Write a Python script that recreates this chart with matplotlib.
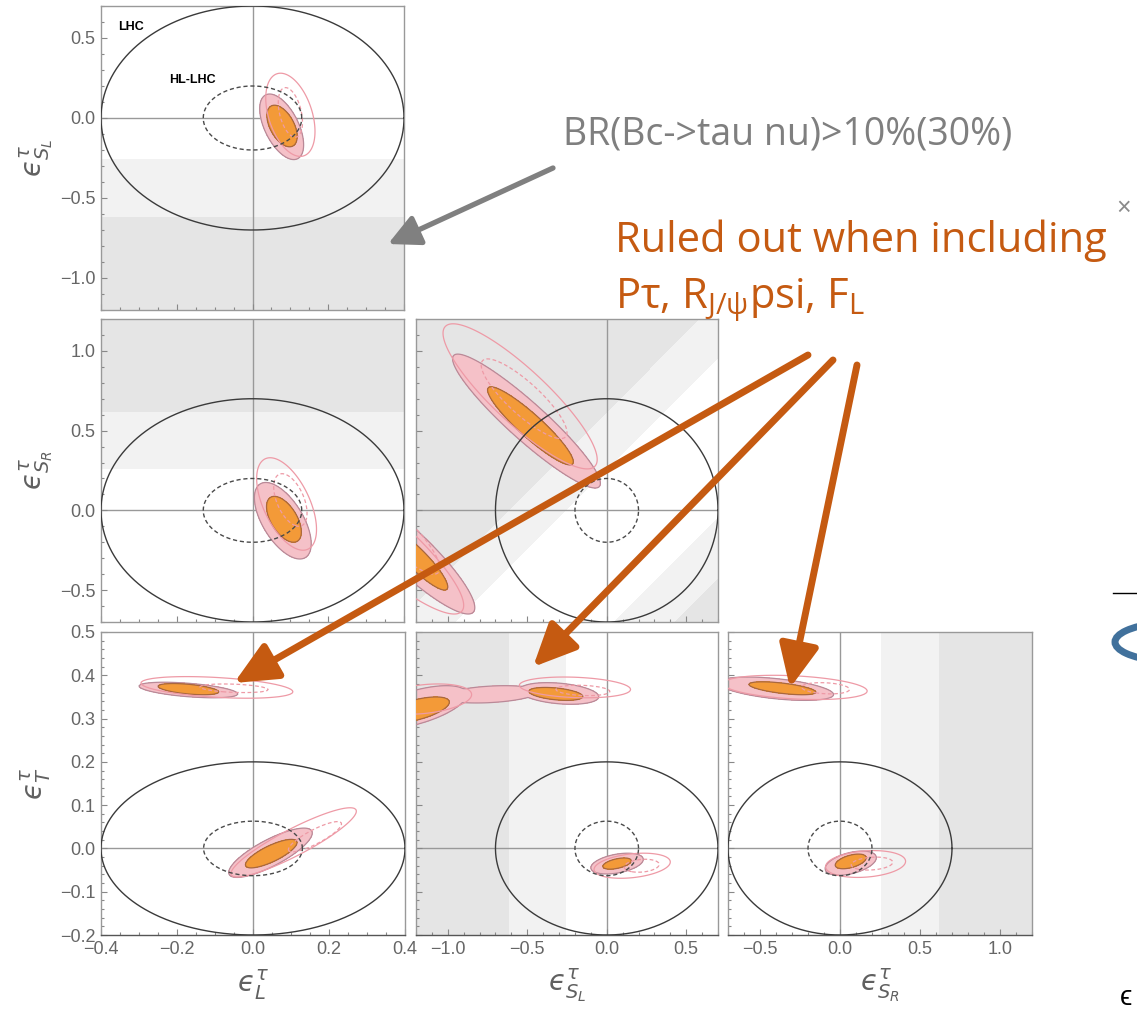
import matplotlib
matplotlib.use("Agg")
import matplotlib.pyplot as plt
import numpy as np
from matplotlib.ticker import MultipleLocator, FuncFormatter
from matplotlib.patches import Arc

plt.rcParams["font.family"] = ["Liberation Sans", "DejaVu Sans"]
plt.rcParams["mathtext.fontset"] = "custom"
plt.rcParams["mathtext.rm"] = "Open Sans"
plt.rcParams["mathtext.it"] = "Open Sans:italic"

W, H = 1137, 1009

# axis ranges / ticks for each coefficient
coef_range = {"L": (-0.4, 0.4), "SL": (-1.2, 0.7), "SR": (-0.7, 1.2), "T": (-0.2, 0.5)}
coef_major = {"L": 0.2, "SL": 0.5, "SR": 0.5, "T": 0.1}
coef_minor = {"L": 0.05, "SL": 0.1, "SR": 0.1, "T": 0.02}
coef_label = {"L": r"$ϵ^{\tau}_{L}$", "SL": r"$ϵ^{\tau}_{S_L}$",
              "SR": r"$ϵ^{\tau}_{S_R}$", "T": r"$ϵ^{\tau}_{T}$"}

# LHC (solid) and HL-LHC (dashed) bounds, semi axes
lhc_bound = {"L": 0.4, "SL": 0.7, "SR": 0.7, "T": 0.2}
hllhc_bound = {"L": 0.13, "SL": 0.2, "SR": 0.2, "T": 0.063}

# BR(Bc->tau nu) > 10% / 30% : allowed window of eps_SR - eps_SL
br10_window = (-0.74, 0.26)
br30_window = (-1.12, 0.62)

# fit regions: (x centre, y centre, x half extent, y half extent, correlation)
fit_1sigma = {
    ("L", "SL"): [(0.078, -0.05, 0.04, 0.13, -0.5)],
    ("L", "SR"): [(0.083, -0.056, 0.046, 0.144, -0.55)],
    ("SL", "SR"): [(-0.48, 0.53, 0.27, 0.245, -0.92), (-1.2, -0.3, 0.2, 0.2, -0.9)],
    ("L", "T"): [(0.048, -0.012, 0.068, 0.033, 0.78), (-0.17, 0.368, 0.08, 0.013, -0.5)],
    ("SL", "T"): [(0.065, -0.035, 0.09, 0.013, 0.5), (-0.32, 0.357, 0.17, 0.015, -0.4),
                  (-1.2, 0.32, 0.21, 0.03, 0.6)],
    ("SR", "T"): [(0.067, -0.03, 0.097, 0.017, 0.5), (-0.36, 0.37, 0.21, 0.015, -0.6)],
}
fit_2sigma = {
    ("L", "SL"): [(0.077, -0.055, 0.058, 0.205, -0.55)],
    ("L", "SR"): [(0.08, -0.065, 0.075, 0.24, -0.6)],
    ("SL", "SR"): [(-0.505, 0.56, 0.465, 0.42, -0.93), (-1.25, -0.25, 0.42, 0.4, -0.9)],
    ("L", "T"): [(0.046, -0.01, 0.11, 0.057, 0.8), (-0.17, 0.366, 0.13, 0.018, -0.5)],
    ("SL", "T"): [(0.065, -0.035, 0.165, 0.024, 0.4), (-0.3, 0.358, 0.25, 0.025, -0.3),
                  (-1.2, 0.326, 0.32, 0.05, 0.6), (-0.73, 0.356, 0.3, 0.02, 0.3)],
    ("SR", "T"): [(0.067, -0.034, 0.16, 0.028, 0.45), (-0.4, 0.369, 0.36, 0.027, -0.5)],
}
fit_alt = {
    ("L", "SL"): [(0.10, 0.02, 0.065, 0.26, -0.4)],
    ("L", "SR"): [(0.09, 0.04, 0.079, 0.29, -0.55)],
    ("SL", "SR"): [(-0.545, 0.715, 0.485, 0.455, -0.87), (-1.4, -0.2, 0.5, 0.45, -0.88)],
    ("L", "T"): [(0.107, 0.014, 0.165, 0.08, 0.9), (-0.095, 0.372, 0.2, 0.025, -0.4)],
    ("SL", "T"): [(0.16, -0.04, 0.24, 0.029, 0.3), (-0.2, 0.372, 0.35, 0.024, -0.2),
                  (-1.15, 0.345, 0.3, 0.035, 0.3)],
    ("SR", "T"): [(0.16, -0.036, 0.25, 0.031, 0.2), (-0.28, 0.372, 0.45, 0.028, -0.3)],
}
fit_alt_1sigma = {
    ("L", "SL"): [(0.10, 0.035, 0.032, 0.155, -0.4)],
    ("L", "SR"): [(0.10, 0.065, 0.044, 0.165, -0.5)],
    ("SL", "SR"): [(-0.52, 0.70, 0.27, 0.25, -0.85), (-1.3, -0.15, 0.25, 0.25, -0.85)],
    ("L", "T"): [(0.163, 0.027, 0.07, 0.035, 0.85), (-0.05, 0.37, 0.09, 0.01, -0.3)],
    ("SL", "T"): [(0.22, -0.04, 0.11, 0.015, 0.2), (-0.15, 0.365, 0.17, 0.012, -0.2)],
    ("SR", "T"): [(0.2, -0.035, 0.13, 0.015, 0.2), (-0.09, 0.37, 0.15, 0.013, -0.2)],
}

# panel boxes in pixels: x-par, y-par, left, top, right, bottom
panels = [("L", "SL", 101, 6, 404, 310),
          ("L", "SR", 101, 319, 404, 622),
          ("SL", "SR", 416, 319, 718, 622),
          ("L", "T", 101, 632, 405, 935),
          ("SL", "T", 416, 632, 718, 935),
          ("SR", "T", 728, 632, 1032, 935)]

orange = "#c55a11"
pink_fill = "#f5c1c8"
pink_edge = "#b98a98"
or_fill = "#f39a38"
or_edge = "#a8673f"
alt_col = "#ee9aa6"
grey_light = "#f2f2f2"
grey_dark = "#e5e5e5"


def region(X, Y, ells):
    q = []
    for cx, cy, sx, sy, r in ells:
        u = (X - cx) / sx
        v = (Y - cy) / sy
        q.append((u * u - 2 * r * u * v + v * v) / (1 - r * r))
    return np.min(q, axis=0)


tick_fmt = FuncFormatter(lambda v, p: ("%.1f" % v).replace("-", "\u2212"))

fig = plt.figure(figsize=(W / 100, H / 100), dpi=100)

for xp, yp, x0, y0, x1, y1 in panels:
    ax = fig.add_axes([x0 / W, 1 - y1 / H, (x1 - x0) / W, (y1 - y0) / H])
    xl, yl = coef_range[xp], coef_range[yp]
    ax.set_xlim(xl)
    ax.set_ylim(yl)
    dx, dy = xl[1] - xl[0], yl[1] - yl[0]
    gx = np.linspace(xl[0] - 0.5 * dx, xl[1] + 0.5 * dx, 500)
    gy = np.linspace(yl[0] - 0.5 * dy, yl[1] + 0.5 * dy, 500)
    X, Y = np.meshgrid(gx, gy)

    # Bc -> tau nu shading, depends on eps_SR - eps_SL
    sl = X if xp == "SL" else (Y if yp == "SL" else 0 * X)
    sr = X if xp == "SR" else (Y if yp == "SR" else 0 * X)
    d = sr - sl
    ax.contourf(X, Y, d, levels=[-50, br30_window[0], br10_window[0], br10_window[1], br30_window[1], 50],
                colors=[grey_dark, grey_light, "white", grey_light, grey_dark], zorder=0)

    ax.axhline(0, color="#999999", lw=1, zorder=1)
    ax.axvline(0, color="#999999", lw=1, zorder=1)

    q2 = region(X, Y, fit_2sigma[(xp, yp)])
    ax.contourf(X, Y, q2, levels=[0, 1], colors=[pink_fill], zorder=2)
    q1 = region(X, Y, fit_1sigma[(xp, yp)])
    ax.contourf(X, Y, q1, levels=[0, 1], colors=[or_fill], zorder=3)
    ax.contour(X, Y, q2, levels=[1], colors=[pink_edge], linewidths=0.9, zorder=4)
    ax.contour(X, Y, q1, levels=[1], colors=[or_edge], linewidths=0.9, zorder=4)
    qa = region(X, Y, fit_alt[(xp, yp)])
    ax.contour(X, Y, qa, levels=[1], colors=[alt_col], linewidths=0.9, zorder=4)
    qb = region(X, Y, fit_alt_1sigma[(xp, yp)])
    cs = ax.contour(X, Y, qb, levels=[1], colors=[alt_col], linewidths=0.9, zorder=4,
                    linestyles="--")
    cs.set_dashes([(0, (3, 2))])

    t = np.linspace(0, 2 * np.pi, 600)
    ax.plot(lhc_bound[xp] * np.cos(t), lhc_bound[yp] * np.sin(t), color="#3a3a3a", lw=1.0, zorder=5)
    ax.plot(hllhc_bound[xp] * np.cos(t), hllhc_bound[yp] * np.sin(t), color="#4a4a4a", lw=1.0,
            dashes=(3, 2), zorder=5)

    ax.xaxis.set_major_locator(MultipleLocator(coef_major[xp]))
    ax.xaxis.set_minor_locator(MultipleLocator(coef_minor[xp]))
    ax.yaxis.set_major_locator(MultipleLocator(coef_major[yp]))
    ax.yaxis.set_minor_locator(MultipleLocator(coef_minor[yp]))
    ax.xaxis.set_major_formatter(tick_fmt)
    ax.yaxis.set_major_formatter(tick_fmt)
    ax.tick_params(which="both", direction="in", color="#888888", labelcolor="#666666",
                   labelsize=13, width=0.8)
    ax.tick_params(which="major", length=4, pad=4)
    ax.tick_params(which="minor", length=2)
    ax.tick_params(labelbottom=(yp == "T"), labelleft=(xp == "L"))
    for s in ax.spines.values():
        s.set_color("#999999")
        s.set_linewidth(1.0)
    if yp == "T":
        ax.spines["bottom"].set_color("#555555")
        ax.set_xlabel(coef_label[xp], fontsize=20, color="#606060", math_fontfamily="dejavusans",
                      va="center")
        ax.xaxis.set_label_coords(0.5, -0.165)
    if xp == "L":
        ax.set_ylabel(coef_label[yp], fontsize=20, color="#606060", math_fontfamily="dejavusans",
                      va="center")
        ax.yaxis.set_label_coords(-0.215, 0.5)
    if (xp, yp) == ("L", "SL"):
        ax.text(-0.32, 0.57, "LHC", fontsize=9, fontweight="bold", ha="center", va="center")
        ax.text(-0.158, 0.24, "HL-LHC", fontsize=9, fontweight="bold", ha="center", va="center")

# overlay in pixel coordinates for slide annotations
ov = fig.add_axes([0, 0, 1, 1], zorder=10)
ov.set_xlim(0, W)
ov.set_ylim(H, 0)
ov.axis("off")
ov.patch.set_alpha(0)

ov.text(563, 135, "BR(Bc->tau nu)>10%(30%)", fontsize=27, family="Open Sans", color="#7f7f7f",
        va="center", ha="left")
ov.annotate("", xy=(388, 244), xytext=(553, 168),
            arrowprops=dict(arrowstyle="-|>,head_length=1.9,head_width=0.95", color="#808080",
                            lw=3.8, shrinkA=0, shrinkB=0))

ov.text(615, 252, "Ruled out when including", fontsize=30, family="Open Sans", color=orange,
        va="baseline", ha="left")
ov.text(615, 308, r"Pτ, R$_{\mathrm{J/\psi}}$psi, F$_{\mathrm{L}}$", fontsize=30,
        family="Open Sans", math_fontfamily="custom", color=orange, va="baseline", ha="left")

for start, tip in [((808, 355), (234, 683)), ((833, 360), (533, 667)), ((857, 365), (790, 688))]:
    ov.annotate("", xy=tip, xytext=start,
                arrowprops=dict(arrowstyle="-|>,head_length=2.6,head_width=1.2", color=orange,
                                lw=5, shrinkA=0, shrinkB=0))

# pieces of the neighbouring slide content at the right edge
ov.text(1116, 208, "×", fontsize=18, color="#8a8a8a", va="center", ha="left")
ov.plot([1113, 1137], [593, 593], color="black", lw=1)
ov.add_patch(Arc((1178, 642), 126, 40, theta1=140, theta2=220, color="#41719c", lw=5))
ov.text(1120, 998, "ϵ", fontsize=20, color="black", va="center", ha="left")

fig.savefig("out.png", dpi=100)
